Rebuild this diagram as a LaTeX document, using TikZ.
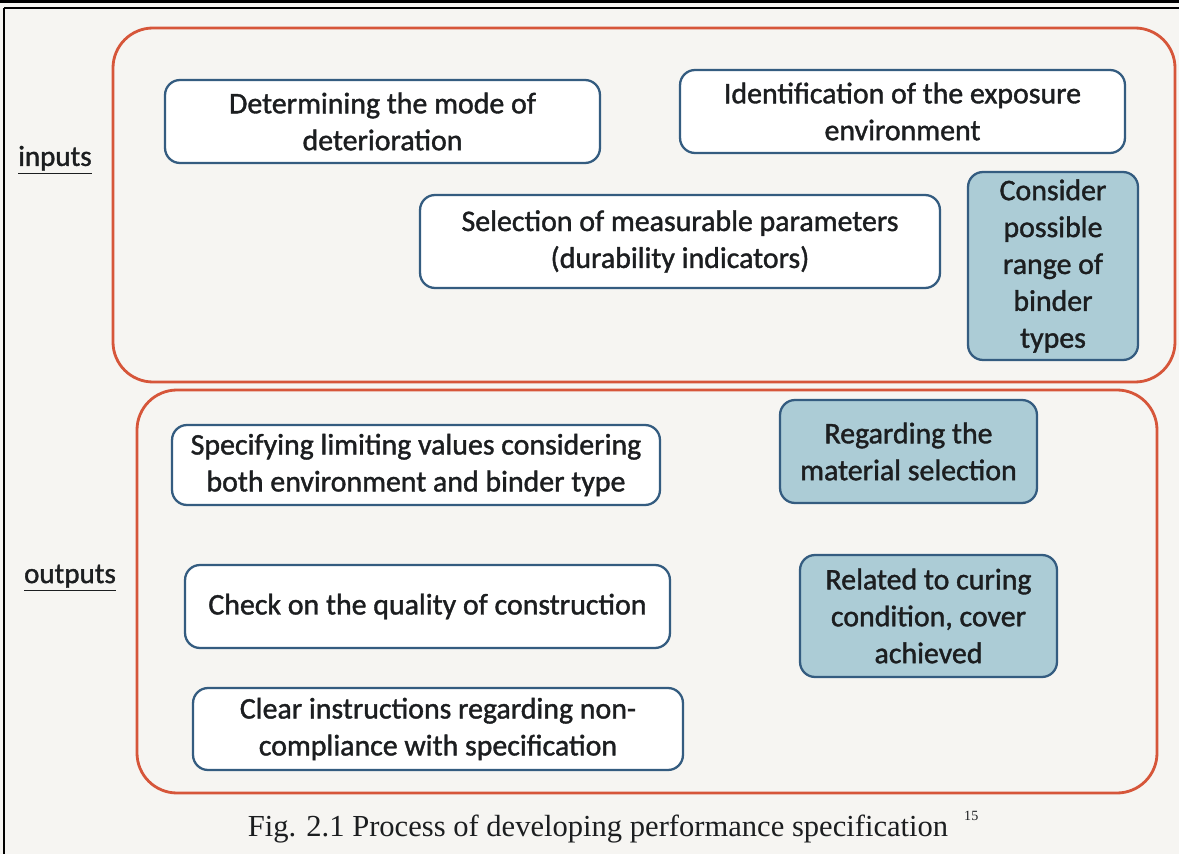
\documentclass[tikz,border=0pt]{standalone}
\usepackage{fontspec}
\setmainfont{Carlito}
\newfontfamily\boxfont[BoldFont=Carlito,BoldFeatures={FakeBold=1.3}]{Carlito}
\newfontfamily\capfont{Liberation Serif}
\definecolor{boxred}{RGB}{214,86,58}
\definecolor{boxblue}{RGB}{52,92,128}
\definecolor{boxfill}{RGB}{172,204,214}
\definecolor{pagebg}{RGB}{246,245,242}
\definecolor{inkgray}{RGB}{28,30,32}

\tikzset{
  groupbox/.style={draw=boxred,line width=1.6pt,rounded corners=0.8cm},
  whitebox/.style={draw=boxblue,line width=1.3pt,rounded corners=0.3cm,fill=white,
    align=center,text=inkgray,font=\boxfont\bfseries\fontsize{17}{21}\selectfont,inner sep=2pt},
  bluebox/.style={whitebox,fill=boxfill},
  sidelabel/.style={text=inkgray,font=\boxfont\bfseries\fontsize{16.5}{21}\selectfont}
}

\begin{document}
\begin{tikzpicture}[x=0.02cm,y=-0.02cm]
    \useasboundingbox (0,0) rectangle (1179,854);
    \fill[pagebg] (0,0) rectangle (1179,854);
    %page frame
    \draw[line width=1.8pt] (0,1.5)--(1179,1.5);
    \draw[line width=1.2pt] (4,8)--(1179,8);
    \draw[line width=1.2pt] (4,8)--(4,854);
    %the two groups
    \draw[groupbox] (113,28) rectangle (1175,382);
    \draw[groupbox] (137,390) rectangle (1157,793);
    %side labels
    \node[sidelabel] (inputs) at (55,160) {\underline{inputs}};
    \node[sidelabel] (outputs) at (70,578) {\underline{outputs}};
    %inputs
    \node[whitebox,minimum width=8.7cm,minimum height=1.66cm] (mode) at (382.5,121.5)
        {Determining the mode of\\deterioration};
    \node[whitebox,minimum width=8.9cm,minimum height=1.66cm] (exposure) at (902.5,111.5)
        {Identification of the exposure\\environment};
    \node[whitebox,minimum width=10.4cm,minimum height=1.86cm] (params) at (680,241.5)
        {Selection of measurable parameters\\(durability indicators)};
    \node[bluebox,minimum width=3.4cm,minimum height=3.76cm] (binder) at (1053,266)
        {Consider\\possible\\range of\\binder\\types};
    %outputs
    \node[whitebox,minimum width=9.76cm,minimum height=1.6cm] (limits) at (416,465)
        {Specifying limiting values considering\\both environment and binder type};
    \node[bluebox,minimum width=5.14cm,minimum height=2.06cm] (material) at (908.5,451.5)
        {Regarding the\\material selection};
    \node[whitebox,minimum width=9.7cm,minimum height=1.66cm] (quality) at (427.5,606.5)
        {Check on the quality of construction};
    \node[bluebox,minimum width=5.14cm,minimum height=2.44cm] (curing) at (928.5,616)
        {Related to curing\\condition, cover\\achieved};
    \node[whitebox,minimum width=9.8cm,minimum height=1.64cm] (noncompl) at (438,729)
        {Clear instructions regarding non-\\compliance with specification};
    %caption
    \node[text=inkgray,font=\capfont\fontsize{17.4}{20}\selectfont] (caption) at (598,829)
        {Fig. 2.1 Process of developing performance specification};
    \node[text=inkgray,font=\capfont\fontsize{8}{10}\selectfont,anchor=west] (ref) at (958,816) {15};
\end{tikzpicture}
\end{document}
